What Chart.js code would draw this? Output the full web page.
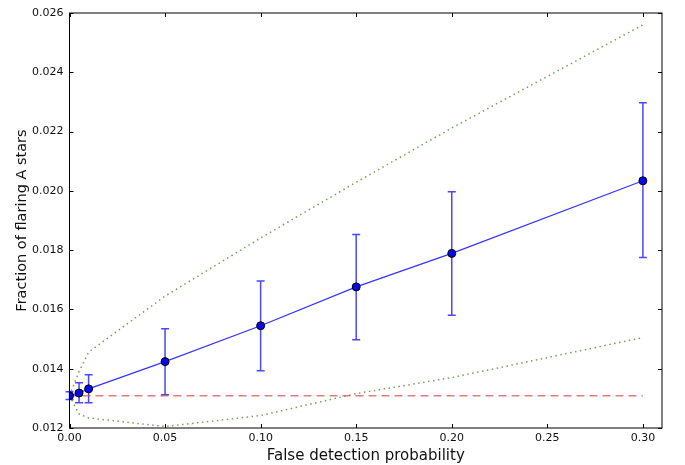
<!DOCTYPE html>
<html lang="en">
<head>
    <meta charset="UTF-8">
    <title>Fraction of flaring A stars</title>
    <script src="https://cdn.jsdelivr.net/npm/chart.js"></script>
    <style>
        body { margin: 0; background: #fff; }
        #chart { display: block; }
    </style>
</head>
<body>
    <canvas id="chart" width="685" height="465"></canvas>

    <script>
        // data
        const falseProb = [0, 0.005, 0.01, 0.05, 0.10, 0.15, 0.20, 0.30];
        const fraction  = [0.01309, 0.01318, 0.01332, 0.01424, 0.01545, 0.01676, 0.01789, 0.02034];
        const errLow    = [0.01296, 0.01285, 0.01285, 0.01312, 0.01393, 0.01498, 0.01580, 0.01775];
        const errHigh   = [0.01322, 0.01353, 0.01380, 0.01535, 0.01696, 0.01853, 0.01997, 0.02297];
        const upperBand = [0.01309, 0.01390, 0.01456, 0.01645, 0.01841, 0.02029, 0.02212, 0.02560];
        const lowerBand = [0.01309, 0.01247, 0.01234, 0.01205, 0.01242, 0.01316, 0.01370, 0.01505];
        const baselineX = [0, 0.30];
        const baselineY = 0.01309;
        const xTicks = [0, 0.05, 0.10, 0.15, 0.20, 0.25, 0.30];
        const yTicks = [0.012, 0.014, 0.016, 0.018, 0.020, 0.022, 0.024, 0.026];

        const pts = (xs, ys) => xs.map((x, i) => ({ x: x, y: ys[i] }));

        // error bars under the markers
        const errorBars = {
            id: 'errorBars',
            beforeDatasetsDraw(chart) {
                const xs = chart.scales.x, ys = chart.scales.y, c = chart.ctx;
                c.save();
                c.strokeStyle = 'rgba(40,40,255,0.85)';
                c.lineWidth = 1.5;
                falseProb.forEach((p, i) => {
                    const px = xs.getPixelForValue(p);
                    const top = ys.getPixelForValue(errHigh[i]);
                    const bot = ys.getPixelForValue(errLow[i]);
                    c.beginPath();
                    c.moveTo(px, top); c.lineTo(px, bot);
                    c.moveTo(px - 4, top); c.lineTo(px + 4, top);
                    c.moveTo(px - 4, bot); c.lineTo(px + 4, bot);
                    c.stroke();
                });
                c.restore();
            }
        };

        // matplotlib-style box with inward ticks on every side
        const frame = {
            id: 'frame',
            afterDraw(chart) {
                const a = chart.chartArea, xs = chart.scales.x, ys = chart.scales.y, c = chart.ctx;
                c.save();
                c.strokeStyle = '#000';
                c.lineWidth = 1;
                c.strokeRect(a.left, a.top, a.right - a.left, a.bottom - a.top);
                c.beginPath();
                xTicks.forEach(t => {
                    const px = Math.round(xs.getPixelForValue(t)) + 0.5;
                    c.moveTo(px, a.bottom); c.lineTo(px, a.bottom - 4);
                    c.moveTo(px, a.top); c.lineTo(px, a.top + 4);
                });
                yTicks.forEach(t => {
                    const py = Math.round(ys.getPixelForValue(t)) + 0.5;
                    c.moveTo(a.left, py); c.lineTo(a.left + 4, py);
                    c.moveTo(a.right, py); c.lineTo(a.right - 4, py);
                });
                c.stroke();
                c.restore();
            }
        };

        const font = 'DejaVu Sans';

        new Chart(document.getElementById('chart'), {
            type: 'scatter',
            data: {
                datasets: [{
                    data: pts(falseProb, fraction),
                    showLine: true,
                    borderColor: 'rgba(30,30,255,0.9)',
                    borderWidth: 1.2,
                    backgroundColor: '#0a0ae6',
                    pointBorderColor: '#000',
                    pointBorderWidth: 1,
                    pointRadius: 4
                }, {
                    data: pts(baselineX, [baselineY, baselineY]),
                    showLine: true,
                    borderColor: 'rgba(215,70,70,0.7)',
                    borderWidth: 1.5,
                    borderDash: [8, 5],
                    pointRadius: 0
                }, {
                    data: pts(falseProb, upperBand),
                    showLine: true,
                    borderColor: 'rgba(70,130,30,0.75)',
                    borderWidth: 1.5,
                    borderDash: [1.5, 3.5],
                    pointRadius: 0
                }, {
                    data: pts(falseProb, lowerBand),
                    showLine: true,
                    borderColor: 'rgba(70,130,30,0.75)',
                    borderWidth: 1.5,
                    borderDash: [1.5, 3.5],
                    pointRadius: 0
                }]
            },
            options: {
                responsive: false,
                animation: false,
                layout: { padding: { top: 13, right: 23, left: 14, bottom: 0 } },
                plugins: { legend: { display: false }, tooltip: { enabled: false } },
                scales: {
                    x: {
                        type: 'linear',
                        min: 0, max: 0.31,
                        grid: { display: false, drawTicks: false },
                        border: { display: false },
                        afterBuildTicks: s => { s.ticks = xTicks.map(v => ({ value: v })); },
                        afterFit: s => { s.height = 37; },
                        ticks: {
                            color: '#111',
                            padding: 4,
                            maxRotation: 0,
                            font: { family: font, size: 11 },
                            callback: v => v.toFixed(2)
                        },
                        title: {
                            display: true,
                            text: 'False detection probability',
                            color: '#111',
                            padding: { top: 0, bottom: 0 },
                            font: { family: font, size: 15 }
                        }
                    },
                    y: {
                        min: 0.012, max: 0.026,
                        grid: { display: false, drawTicks: false },
                        border: { display: false },
                        afterBuildTicks: s => { s.ticks = yTicks.map(v => ({ value: v })); },
                        afterFit: s => { s.width = 55.5; },
                        ticks: {
                            color: '#111',
                            padding: 6,
                            font: { family: font, size: 11 },
                            callback: v => v.toFixed(3)
                        },
                        title: {
                            display: true,
                            text: 'Fraction of flaring A stars',
                            color: '#111',
                            padding: { top: 0, bottom: 0 },
                            font: { family: font, size: 14.5 }
                        }
                    }
                }
            },
            plugins: [errorBars, frame]
        });
    </script>
</body>
</html>
